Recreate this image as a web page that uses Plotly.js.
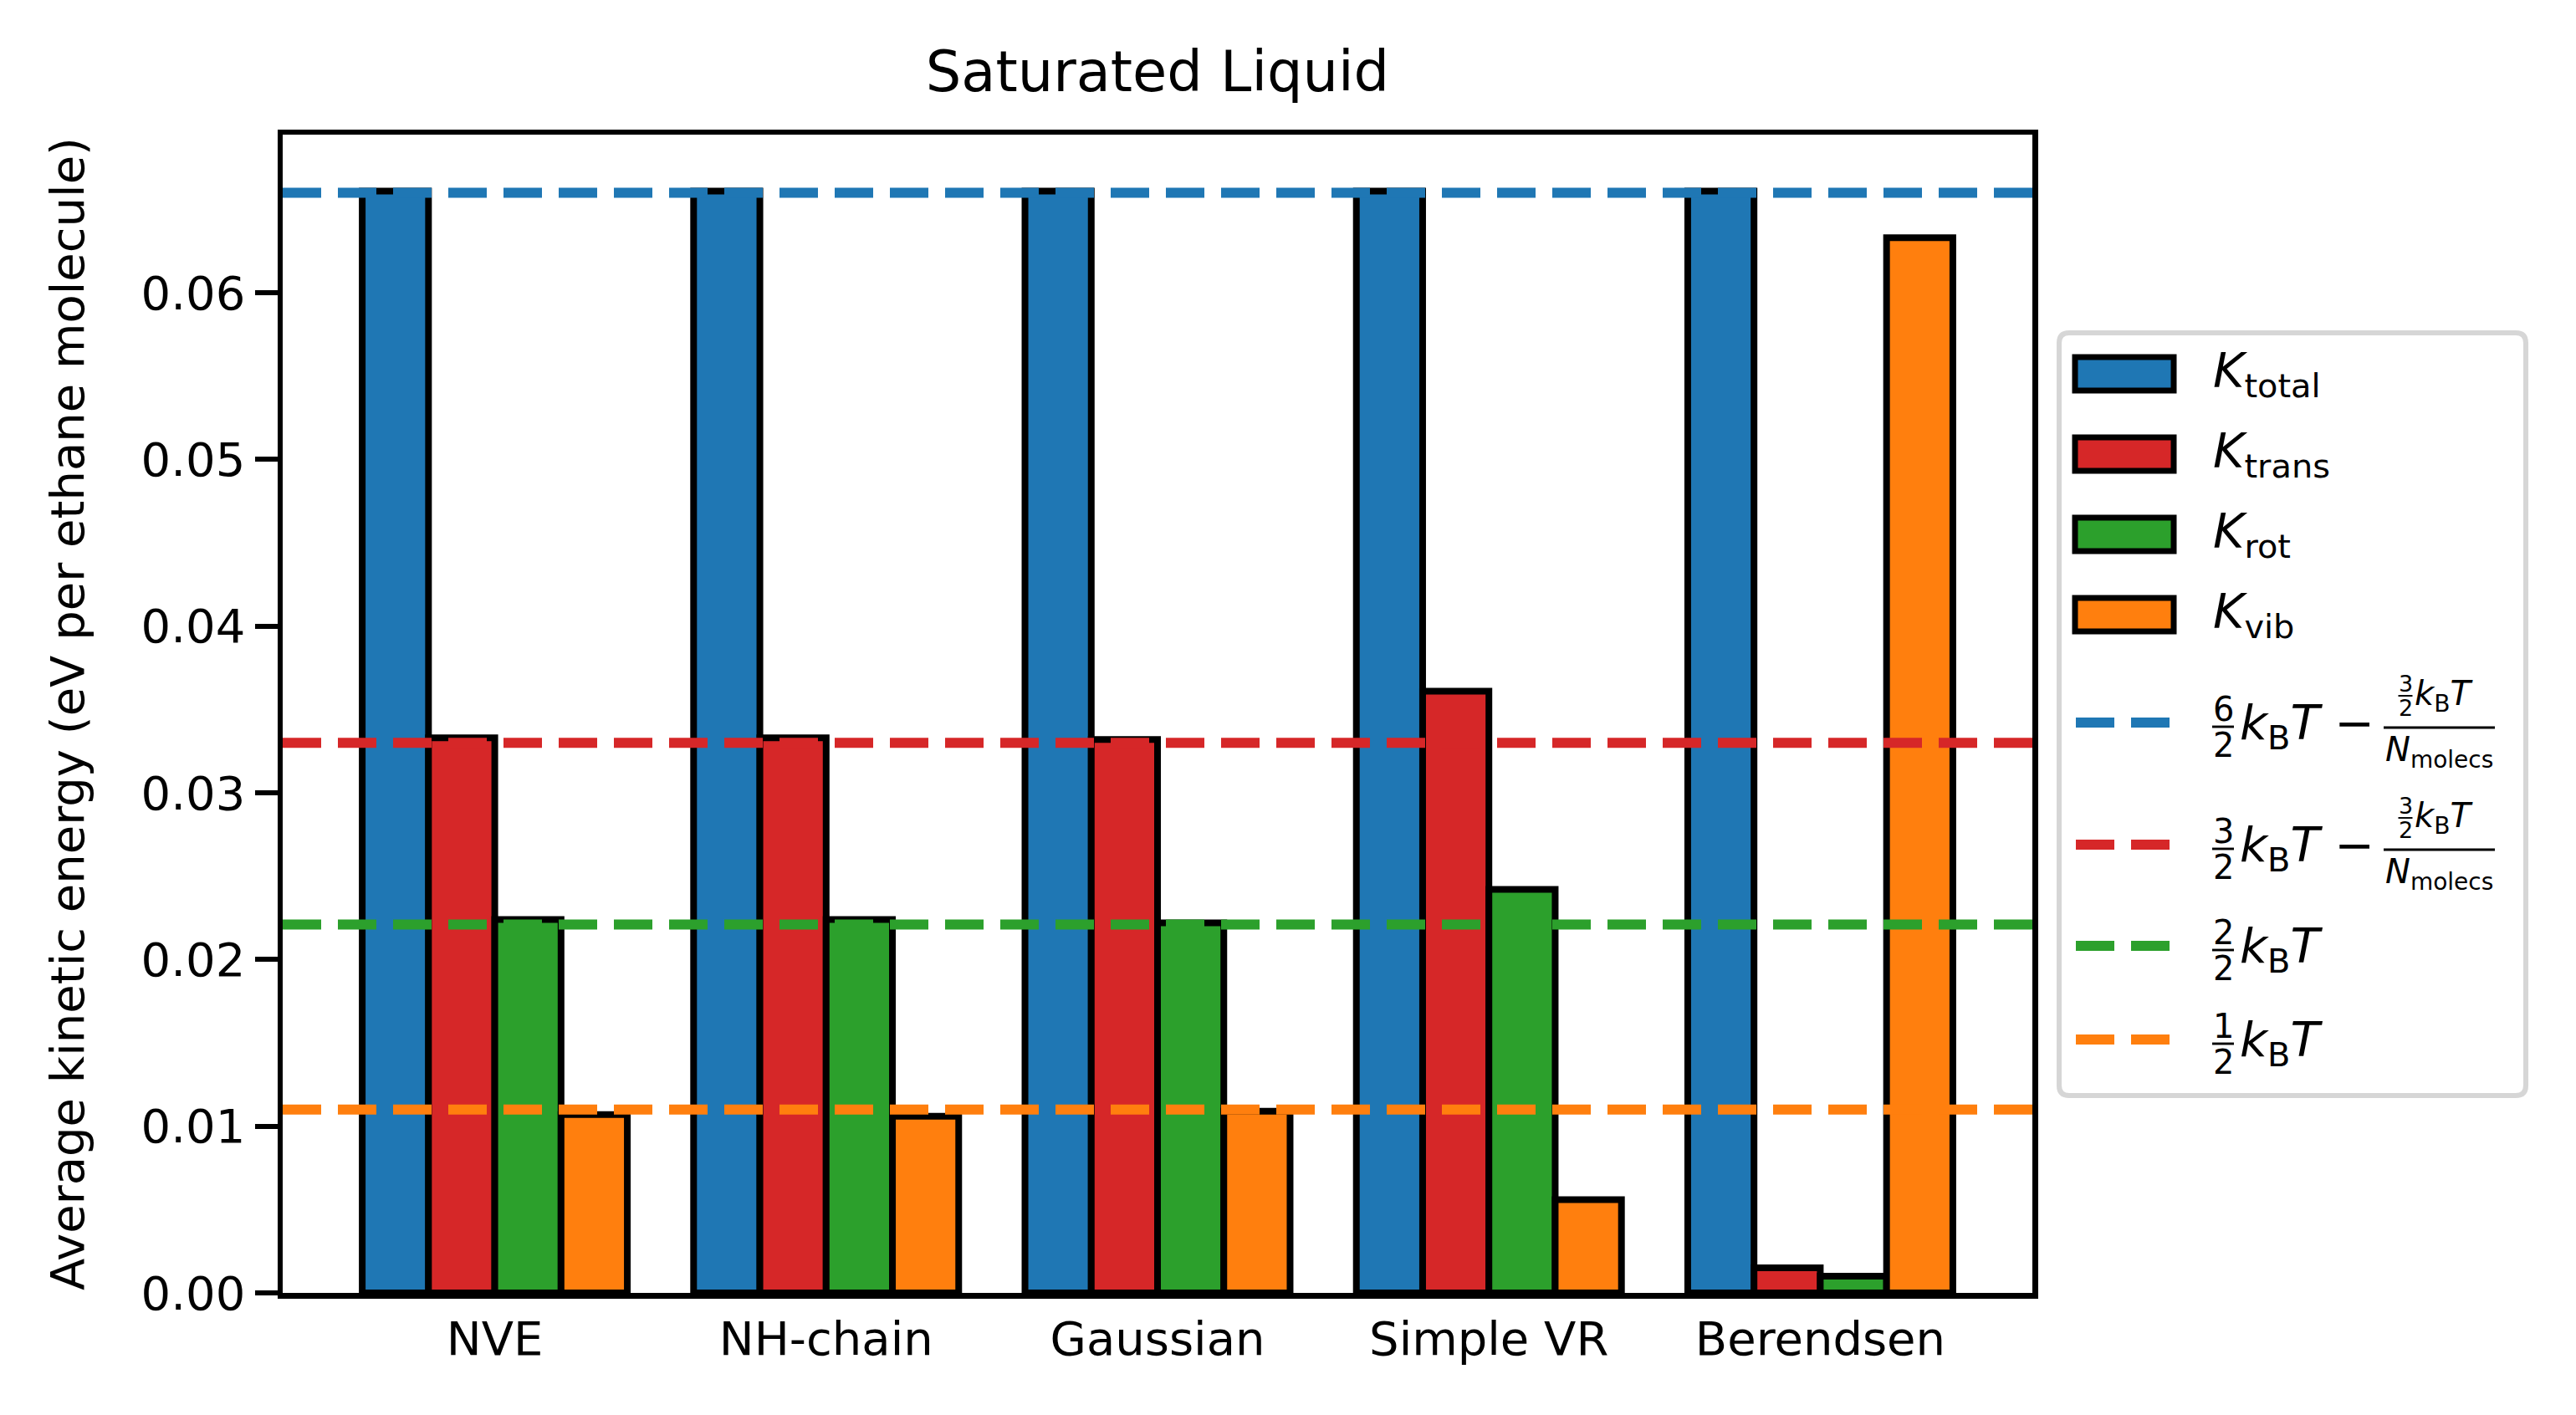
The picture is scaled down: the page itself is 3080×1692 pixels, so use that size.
<!DOCTYPE html>
<html>
<head>
<meta charset="utf-8">
<script src="https://cdn.plot.ly/plotly-3.0.1.min.js"></script>
<style>
  body { margin: 0; background: #fff; }
  #chart { width: 3080px; height: 1692px; }
</style>
</head>
<body>
<div id="chart"></div>
<script>
// values (eV per ethane molecule)
const methods = ['NVE', 'NH-chain', 'Gaussian', 'Simple VR', 'Berendsen'];
const kTotal = [0.0661, 0.0661, 0.0661, 0.0661, 0.0661];
const kTrans = [0.0333, 0.0333, 0.0332, 0.0361, 0.0015];
const kRot = [0.0224, 0.0224, 0.0222, 0.0242, 0.0010];
const kVib = [0.0107, 0.0106, 0.0109, 0.0056, 0.0633];
// theoretical reference levels: 6/2kT - 3/2kT/N, 3/2kT - 3/2kT/N, 2/2kT, 1/2kT
const refLevels = [0.0660, 0.0330, 0.0221, 0.0110];
const yTicks = [0, 0.01, 0.02, 0.03, 0.04, 0.05, 0.06];

const BLUE = '#1f77b4', RED = '#d62728', GREEN = '#2ca02c', ORANGE = '#ff7f0e';
const FONT = 'DejaVu Sans';

// plot area in page pixels
const L = 338, R = 2430, T = 161, B = 1546;
const W = 3080, H = 1692;
const px = x => (x - L) / (R - L);
const py = y => (B - y) / (B - T);

const series = [
  { name: 'K_total', y: kTotal, color: BLUE },
  { name: 'K_trans', y: kTrans, color: RED },
  { name: 'K_rot', y: kRot, color: GREEN },
  { name: 'K_vib', y: kVib, color: ORANGE }
];

const traces = series.map(s => ({
  type: 'bar',
  x: methods,
  y: s.y,
  name: s.name,
  showlegend: false,
  marker: { color: s.color, line: { color: '#000', width: 8 } }
}));

const lineColors = [BLUE, RED, GREEN, ORANGE];
const shapes = refLevels.map((v, i) => ({
  type: 'line', xref: 'paper', yref: 'y', x0: 0, x1: 1, y0: v, y1: v,
  line: { color: lineColors[i], width: 12, dash: '46px,20px' }, layer: 'above'
}));
const annotations = [];

// ---- hand-built legend (matplotlib style with stacked fractions) ----
function txt(x, y, text, size, xanchor) {
  annotations.push({
    xref: 'paper', yref: 'paper', x: px(x), y: py(y), text: text,
    showarrow: false, xanchor: xanchor || 'left', yanchor: 'middle',
    font: { family: FONT, size: size, color: '#000' }, borderpad: 0
  });
}
function hline(x0, x1, y, color, width, dash) {
  shapes.push({
    type: 'line', xref: 'paper', yref: 'paper', x0: px(x0), x1: px(x1), y0: py(y), y1: py(y),
    line: { color: color, width: width, dash: dash || 'solid' }, layer: 'above'
  });
}
function frac(xc, ybar, num, den, size, w) {
  hline(xc - w / 2, xc + w / 2, ybar, '#000', size / 14);
  txt(xc, ybar - 0.52 * size, num, size, 'center');
  txt(xc, ybar + 0.55 * size, den, size, 'center');
}

// frame with rounded corners
(function () {
  const x0 = 2462, x1 = 3020, y0 = 398, y1 = 1310, r = 12;
  const P = (x, y) => px(x) + ',' + py(y);
  const path = 'M' + P(x0 + r, y0) + ' L' + P(x1 - r, y0) + ' Q' + P(x1, y0) + ' ' + P(x1, y0 + r) +
    ' L' + P(x1, y1 - r) + ' Q' + P(x1, y1) + ' ' + P(x1 - r, y1) +
    ' L' + P(x0 + r, y1) + ' Q' + P(x0, y1) + ' ' + P(x0, y1 - r) +
    ' L' + P(x0, y0 + r) + ' Q' + P(x0, y0) + ' ' + P(x0 + r, y0) + ' Z';
  shapes.push({ type: 'path', xref: 'paper', yref: 'paper', path: path,
    fillcolor: 'rgba(255,255,255,0.8)', line: { color: '#d6d6d6', width: 6 }, layer: 'above' });
})();

const KT = '<i>k</i><sub>B</sub><i>T</i>';
const barLabels = ['total', 'trans', 'rot', 'vib'];
const patchY = [447, 543, 639, 735];
series.forEach((s, i) => {
  shapes.push({
    type: 'rect', xref: 'paper', yref: 'paper',
    x0: px(2481), x1: px(2599), y0: py(patchY[i] - 20), y1: py(patchY[i] + 20),
    fillcolor: s.color, line: { color: '#000', width: 7 }, layer: 'above'
  });
  txt(2645, patchY[i], '<i>K</i><sub>' + barLabels[i] + '</sub>', 57);
});

const dashY = [864, 1010, 1131, 1243];
const fracNum = ['6', '3', '2', '1'];
dashY.forEach((yc, i) => {
  hline(2482, 2596, yc, lineColors[i], 12, '46px,20px');
  frac(2658, yc + 5, fracNum[i], '2', 40, 26);
  txt(2677, yc + 4, i < 2 ? KT + ' \u2212' : KT, 57);
  if (i < 2) {
    hline(2850, 2983, yc + 6, '#000', 3);
    frac(2876, yc - 32, '3', '2', 27, 17);
    txt(2886, yc - 32, KT, 40);
    txt(2916, yc + 35, '<i>N</i><sub>molecs</sub>', 40, 'center');
  }
});

const layout = {
  width: W, height: H,
  margin: { l: L, r: W - R, t: T, b: H - B, pad: 0 },
  paper_bgcolor: '#fff', plot_bgcolor: '#fff',
  font: { family: FONT, size: 56, color: '#000' },
  title: {
    text: 'Saturated Liquid', font: { family: FONT, size: 67, color: '#000' },
    x: 0.5, xref: 'paper', xanchor: 'center', y: 1 - 86 / H, yref: 'container', yanchor: 'middle'
  },
  barmode: 'group', bargap: 0.2, bargroupgap: 0,
  showlegend: false,
  xaxis: {
    type: 'category', range: [-0.64, 4.64], ticks: '', showgrid: false, zeroline: false,
    showline: true, linecolor: '#000', linewidth: 6.5, mirror: true,
    tickfont: { family: FONT, size: 56 }
  },
  yaxis: {
    range: [0, (B - T) / 19933], tickvals: yTicks, tickformat: '.2f',
    ticks: 'outside', ticklen: 27, tickwidth: 6, tickcolor: '#000',
    showgrid: false, zeroline: false,
    showline: true, linecolor: '#000', linewidth: 6.5, mirror: true,
    tickfont: { family: FONT, size: 56 },
    title: { text: 'Average kinetic energy (eV per ethane molecule)', font: { family: FONT, size: 56 }, standoff: 52 }
  },
  shapes: shapes,
  annotations: annotations
};

Plotly.newPlot('chart', traces, layout, { displayModeBar: false, staticPlot: true });
</script>
</body>
</html>
